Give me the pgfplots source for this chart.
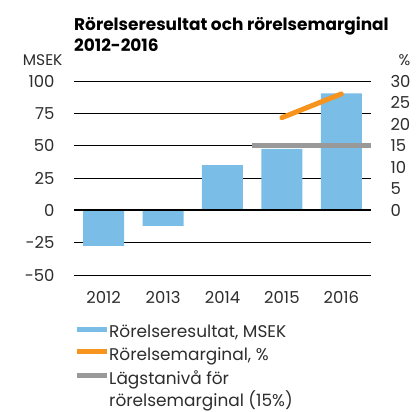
\documentclass[border=0pt]{standalone}
\usepackage{fontspec}
\setmainfont{Poppins}
\usepackage{pgfplots}
\pgfplotsset{compat=1.18}

\definecolor{barblue}{RGB}{122,189,230}
\definecolor{margorange}{RGB}{247,148,29}
\definecolor{mingray}{RGB}{153,153,153}
\definecolor{txt}{RGB}{45,45,45}

\begin{document}
\begin{tikzpicture}
\path[use as bounding box] (-74bp,-137bp) rectangle (343bp,275bp);

% left axis: operating result (MSEK)
\begin{axis}[
    at={(0,0)}, anchor=south west, clip=false,
    scale only axis, width=297bp, height=194bp,
    xmin=-0.5, xmax=4.5, ymin=-50, ymax=100,
    xtick={0,1,2,3,4}, xticklabels={2012,2013,2014,2015,2016},
    ytick={-50,-25,0,25,50,75,100},
    yticklabels={-50,-25,0,25,50,75,100},
    axis line style={draw=none}, major tick length=0pt,
    ymajorgrids, major grid style={black, line width=0.7bp},
    tick label style={font=\fontsize{16.5}{19}\selectfont, text=txt},
    yticklabel style={xshift=-16bp},
    xticklabel style={yshift=-13bp},
    legend style={at={(0,0)}, anchor=north west, yshift=-50bp,
        draw=none, fill=none, inner sep=0pt, row sep=8.5bp,
        font=\fontsize{17}{22}\selectfont, text=txt,
        nodes={inner sep=0pt},
        /tikz/every even column/.append style={column sep=9bp}},
    legend cell align=left,
    legend image code/.code={\draw[#1] (0bp,0.3em) -- (30bp,0.3em);},
]
\addplot[ybar, bar width=41bp, fill=barblue, draw=none, forget plot]
    coordinates {(0,-27.5) (1,-12) (2,35) (3,47.5) (4,90.5)};
\addlegendimage{barblue, line width=5bp}
\addlegendentry{Rörelseresultat, MSEK}
\addlegendimage{margorange, line width=5bp}
\addlegendentry{Rörelsemarginal, \%}
\addlegendimage{mingray, line width=5bp}
\addlegendentry{\parbox[t]{7cm}{Lägstanivå för\\rörelsemarginal (15\%)}}
\node[anchor=base east, font=\fontsize{15.5}{18}\selectfont, text=txt]
    at (rel axis cs:0,1) [xshift=-8bp, yshift=15bp] {MSEK};
\node[anchor=base west, font=\fontsize{15.5}{18}\selectfont, text=txt]
    at (rel axis cs:1,1) [xshift=24bp, yshift=15bp] {\%};
\node[anchor=south west, align=left, inner sep=0pt, text=black,
    font=\bfseries\fontsize{17}{21}\selectfont]
    at (rel axis cs:0,1) [yshift=29bp] {Rörelseresultat och rörelsemarginal\\2012-2016};
\end{axis}

% right axis: operating margin (%)
\begin{axis}[
    at={(0,0)}, anchor=south west,
    scale only axis, width=297bp, height=194bp,
    xmin=-0.5, xmax=4.5, ymin=-15, ymax=30,
    axis y line*=right, hide x axis,
    axis line style={draw=none}, major tick length=0pt,
    ytick={0,5,10,15,20,25,30},
    yticklabels={0,5,10,15,20,25,30},
    tick label style={font=\fontsize{16.5}{19}\selectfont, text=txt},
    yticklabel style={xshift=16bp},
    extra y ticks={0}, extra y tick labels={},
    extra y tick style={ymajorgrids=true,
        major grid style={black, line width=2.2bp}},
]
\addplot[mingray, line width=5bp] coordinates {(2.5,15) (4.5,15)};
\addplot[margorange, line width=5bp, line cap=round] coordinates {(3,21.5) (4,27)};
\end{axis}
\end{tikzpicture}
\end{document}
